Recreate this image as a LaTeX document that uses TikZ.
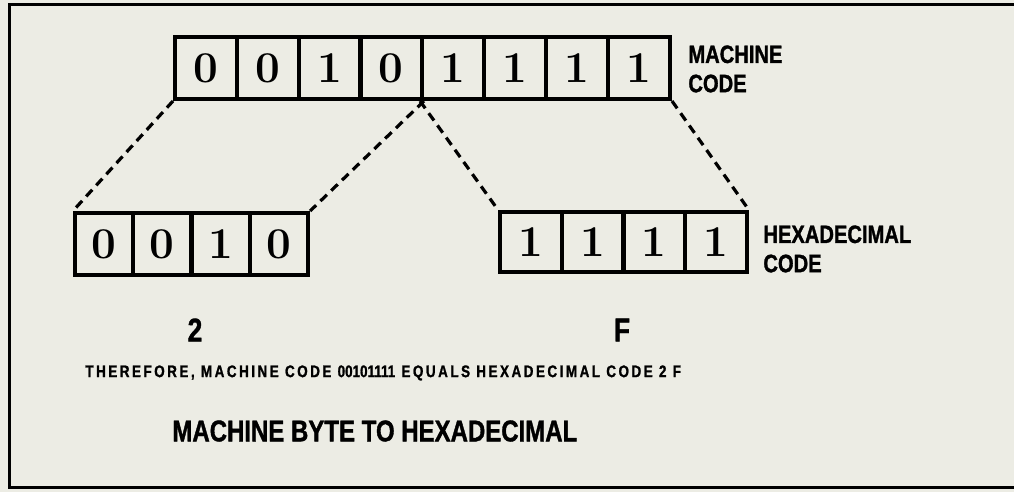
\documentclass[tikz,border=0pt]{standalone}
\usepackage{fontspec}
\newfontfamily\condbold[FakeStretch=0.8,FakeBold=1.2]{Liberation Sans Bold}
\definecolor{paper}{RGB}{236,236,228}
\tikzset{
  bitcell/.style={draw, line width=2pt, minimum width=31pt, minimum height=31pt, inner sep=0pt, font=\fontsize{22}{22}\selectfont\bfseries},
  leftcell/.style={bitcell, minimum width=29.1pt},
  rightcell/.style={bitcell, minimum width=30.9pt, minimum height=30pt},
  dashlink/.style={line width=1.6pt, dash pattern=on 4.5pt off 3pt},
  codelabel/.style={anchor=north west, inner sep=0pt, align=left, font=\condbold\fontsize{12.6}{14.6}\selectfont},
  valuelabel/.style={inner sep=0pt, font=\condbold\fontsize{16.5}{16.5}\selectfont},
}
\begin{document}
\begin{tikzpicture}[x=0.5pt, y=-0.5pt]
	\fill[paper] (0,0) rectangle (1014,492);
	\useasboundingbox (0,0) rectangle (1014,492);
	\draw[line width=1.5pt] (1014,5) -- (9,5) -- (9,487) -- (1014,487);
	% the byte
	\node[bitcell] (m1) at (206,68) {0};
	\node[bitcell] (m2) at (268,68) {0};
	\node[bitcell] (m3) at (330,68) {1};
	\node[bitcell] (m4) at (391,68) {0};
	\node[bitcell] (m5) at (453,68) {1};
	\node[bitcell] (m6) at (515,68) {1};
	\node[bitcell] (m7) at (577,68) {1};
	\node[bitcell] (m8) at (639,68) {1};
	% high nibble
	\node[leftcell] (a1) at (104,244) {0};
	\node[leftcell] (a2) at (162,244) {0};
	\node[leftcell] (a3) at (221,244) {1};
	\node[leftcell] (a4) at (279,244) {0};
	% low nibble
	\node[rightcell] (b1) at (531,242) {1};
	\node[rightcell] (b2) at (593,242) {1};
	\node[rightcell] (b3) at (654,242) {1};
	\node[rightcell] (b4) at (716,242) {1};
	\draw[dashlink] (m1.south west) -- (a1.north west);
	\draw[dashlink] (m4.south east) -- (a4.north east);
	\draw[dashlink] (m5.south west) -- (b1.north west);
	\draw[dashlink] (m8.south east) -- (b4.north east);
	\node[codelabel] (mcode) at (688,45) {MACHINE\\CODE};
	\node[codelabel] (hcode) at (763,225) {HEXADECIMAL\\CODE};
	\node[valuelabel] (hi) at (195,330) {2};
	\node[valuelabel] (lo) at (622,330) {F};
	\node[anchor=north west, inner sep=0pt, font=\condbold\fontsize{8.4}{8.4}\selectfont\addfontfeature{LetterSpace=15}] (note) at (85,365)
		{THEREFORE, MACHINE CODE {\addfontfeature{LetterSpace=0}00101111} EQUALS HEXADECIMAL CODE 2 F};
	\node[anchor=north west, inner sep=0pt, font=\condbold\fontsize{15}{15}\selectfont] (title) at (172,420)
		{MACHINE BYTE TO HEXADECIMAL};
\end{tikzpicture}
\end{document}
